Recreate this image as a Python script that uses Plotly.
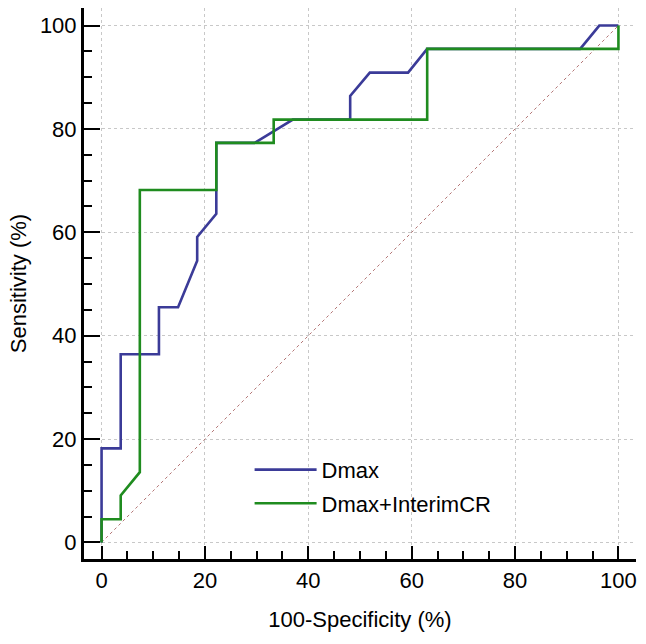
import plotly.graph_objects as go

# ROC curve data (x = 100-Specificity %, y = Sensitivity %)
fpr_dmax = [0, 0, 3.7, 3.7, 11.1, 11.1, 14.8, 18.5, 18.5, 22.2, 22.2, 29.6, 37.0,
            48.1, 48.1, 51.9, 59.3, 63.0, 92.6, 96.3, 100]
tpr_dmax = [0, 18.2, 18.2, 36.4, 36.4, 45.5, 45.5, 54.5, 59.1, 63.6, 77.3, 77.3, 81.8,
            81.8, 86.4, 90.9, 90.9, 95.5, 95.5, 100, 100]

fpr_comb = [0, 0, 3.7, 3.7, 7.4, 7.4, 22.2, 22.2, 33.3, 33.3, 63.0, 63.0, 100, 100]
tpr_comb = [0, 4.5, 4.5, 9.1, 13.6, 68.2, 68.2, 77.3, 77.3, 81.8, 81.8, 95.5, 95.5, 100]

ref_x = [0, 100]
ref_y = [0, 100]

series_names = ["Dmax", "Dmax+InterimCR"]
tick_vals = [0, 20, 40, 60, 80, 100]
tick_text = ["0", "20", "40", "60", "80", "100"]

FONT = "Liberation Sans, Arial, Helvetica, sans-serif"
FS = 22

fig = go.Figure()
fig.add_trace(go.Scatter(x=ref_x, y=ref_y, mode="lines",
                         line=dict(color="#b47676", width=1, dash="dot"),
                         showlegend=False, hoverinfo="skip"))
fig.add_trace(go.Scatter(x=fpr_dmax, y=tpr_dmax, mode="lines", name=series_names[0],
                         legendgroup="a",
                         line=dict(color="#3b3b98", width=2.6)))
fig.add_trace(go.Scatter(x=fpr_comb, y=tpr_comb, mode="lines", name=series_names[1],
                         legendgroup="b",
                         line=dict(color="#1f8c1f", width=2.6)))

axis_common = dict(
    tickmode="array", tickvals=tick_vals, ticktext=tick_text,
    showgrid=True, gridcolor="#c8c8c8", griddash="dot", gridwidth=1,
    zeroline=False,
    showline=True, linecolor="black", linewidth=3, mirror=False,
    ticks="inside", tickcolor="black", tickwidth=2,
    tickfont=dict(family=FONT, size=FS, color="black"),
    minor=dict(ticks="inside", dtick=5, tick0=0, ticklen=8, tickwidth=2,
               tickcolor="black", showgrid=False),
)

fig.update_xaxes(**axis_common, range=[-3.4, 103.4], ticklen=13,
                 title=dict(text="100-Specificity (%)", standoff=20,
                            font=dict(family=FONT, size=FS, color="black")))
fig.update_yaxes(**axis_common, range=[-3.2, 103.4], ticklen=16,
                 title=dict(text="Sensitivity (%)", standoff=8,
                            font=dict(family=FONT, size=FS, color="black")))

fig.update_layout(
    width=646, height=644,
    margin=dict(l=84, r=10, t=8, b=85),
    plot_bgcolor="white", paper_bgcolor="white",
    legend=dict(x=0.3, y=0.2, xanchor="left", yanchor="top",
                bgcolor="rgba(0,0,0,0)", borderwidth=0,
                font=dict(family=FONT, size=FS, color="black"),
                traceorder="grouped", tracegroupgap=2, itemwidth=62),
)

fig.write_html("out.html", config={"displayModeBar": False},
               post_script="document.body.style.margin='0';")
